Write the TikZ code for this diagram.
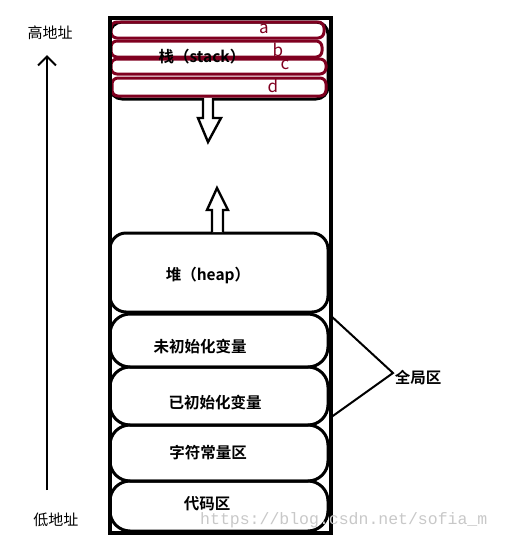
\documentclass[tikz,border=0pt]{standalone}
\usepackage{fontspec}
\usetikzlibrary{arrows.meta}
\newfontfamily\cjk{Noto Sans CJK SC}
\newfontfamily\cjkb{Noto Sans CJK SC Bold}
\newfontfamily\wmfont{Liberation Mono}
\definecolor{darkred}{RGB}{128,0,32}
\definecolor{wmgray}{RGB}{200,200,200}
\begin{document}
\begin{tikzpicture}[x=1pt,y=-1pt,
  seg/.style={draw=black,line width=3pt,rounded corners=16pt,inner sep=0pt,minimum width=218pt},
  redseg/.style={draw=darkred,line width=3pt,rounded corners=6pt,inner sep=0pt},
  lbl/.style={font=\cjkb\fontsize{15.5}{17}\selectfont,inner sep=0pt},
  side/.style={font=\cjk\fontsize{15}{17}\selectfont,inner sep=0pt},
  redl/.style={font=\cjk\fontsize{17}{18}\selectfont,text=darkred,inner sep=0pt},
  hollow/.style={draw=black,line width=2.4pt,fill=white,line join=miter}]
\useasboundingbox (0,0) rectangle (509,542);
% outer box
\node[draw=black,line width=4pt,minimum width=221pt,minimum height=515pt,inner sep=0pt] (outer) at (220.5,275.5) {};
% stack block
\node[seg,minimum height=77pt,rounded corners=12pt] (stack) at (219,60.5) {};
\node[redseg,minimum width=213pt,minimum height=16pt] (ra) at (217.5,30) {};
\node[redseg,minimum width=211pt,minimum height=16pt] (rb) at (216.5,49) {};
\node[redseg,minimum width=215pt,minimum height=15pt] (rc) at (218.5,66.5) {};
\node[redseg,minimum width=214pt,minimum height=18pt] (rd) at (219,87) {};
\node[redl] (la) at (264,29) {a};
\node[redl] (lb) at (278,50) {b};
\node[redl] (lc) at (285,65) {c};
\node[redl] (ld) at (273,86) {d};
\node[lbl] (tstack) at (202,57) {栈（stack）};
% heap
\node[seg,minimum height=79pt] (heap) at (219,272.5) {};
\node[lbl] (theap) at (208,275) {堆（heap）};
% lower segments
\node[seg,minimum height=53pt,rounded corners=20pt] (bss) at (219,340.5) {};
\node[seg,minimum height=58pt,rounded corners=20pt] (data) at (219,396) {};
\node[seg,minimum height=56pt,rounded corners=20pt] (rodata) at (219,453) {};
\node[seg,minimum height=50pt,rounded corners=20pt] (text) at (219,506) {};
\node[draw=black,line width=4pt,minimum width=221pt,minimum height=515pt,inner sep=0pt] (outer2) at (220.5,275.5) {};
\node[lbl] (tbss) at (200,347) {未初始化变量};
\node[lbl] (tdata) at (215,403) {已初始化变量};
\node[lbl] (trod) at (208,453) {字符常量区};
\node[lbl] (ttext) at (207,504) {代码区};
% growth arrows
\draw[hollow] (203,98) -- (203,118) -- (198,118) -- (208,142) -- (221,118) -- (213,118) -- (213,98);
\draw[hollow] (212,232) -- (212,210) -- (207,210) -- (217,188) -- (228,210) -- (223,210) -- (223,232);
% global region
\node[lbl] (glob) at (418,378) {全局区};
\coordinate (gtip) at (393,373);
\coordinate (gu) at (330,315);
\coordinate (gl) at (330,418);
\draw[line width=2pt] (gu) -- (gtip) -- (gl);
% address labels
\node[side] (high) at (50,33) {高地址};
\node[side] (low) at (56,520) {低地址};
\coordinate (ab) at (47,490);
\coordinate (at) at (47,55);
\draw[line width=2pt,-{Straight Barb[length=9pt,width=18pt,line width=2pt]}] (ab) -- (at);
% watermark
\node[font=\wmfont\fontsize{16.5}{18}\selectfont,text=wmgray,inner sep=0pt,anchor=west] (wm) at (200,520) {https://blog.csdn.net/sofia\_m};
\end{tikzpicture}
\end{document}
